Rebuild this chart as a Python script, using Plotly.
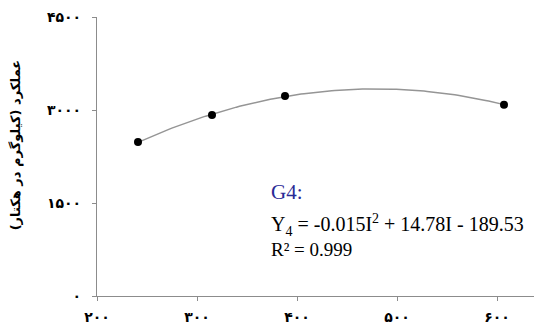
import numpy as np
import plotly.graph_objects as go

# Data
irrigation = [241, 315, 388, 607]
yield_kg = [2484, 2919, 3226, 3086]

x_tick_vals = [200, 300, 400, 500, 600]
x_tick_text = ["<b>۲۰۰</b>", "<b>۳۰۰</b>", "<b>۴۰۰</b>", "<b>۵۰۰</b>", "<b>۶۰۰</b>"]
y_tick_vals = [0, 1500, 3000, 4500]
y_tick_text = ["<b>۰</b>", "<b>۱۵۰۰</b>", "<b>۳۰۰۰</b>", "<b>۴۵۰۰</b>"]

y_title = "<b>عملکرد (کیلوگرم در هکتار)</b>"
group_label = "G4:"
equation = "Y<sub>4</sub> = -0.015I<sup>2</sup> + 14.78I - 189.53"
r2_label = "R² = 0.999"

# Quadratic trendline fitted to the data points
coef = np.polyfit(irrigation, yield_kg, 2)
xs = np.linspace(min(irrigation), max(irrigation), 120)
ys = np.polyval(coef, xs)

fig = go.Figure()
fig.add_trace(go.Scatter(x=xs, y=ys, mode="lines",
                         line=dict(color="#959595", width=1.5),
                         hoverinfo="skip", showlegend=False))
fig.add_trace(go.Scatter(x=irrigation, y=yield_kg, mode="markers",
                         marker=dict(color="black", size=8),
                         showlegend=False))

fig.add_annotation(x=0.386, y=0.374, xref="paper", yref="paper",
                   text=group_label, showarrow=False, xanchor="left", yanchor="middle",
                   font=dict(family="Liberation Serif", size=21, color="#2a2a96"))
fig.add_annotation(x=0.386, y=0.256, xref="paper", yref="paper",
                   text=equation, showarrow=False, xanchor="left", yanchor="middle",
                   font=dict(family="Liberation Serif", size=20, color="black"))
fig.add_annotation(x=0.386, y=0.168, xref="paper", yref="paper",
                   text=r2_label, showarrow=False, xanchor="left", yanchor="middle",
                   font=dict(family="Liberation Serif", size=19, color="black"))
fig.add_annotation(x=-0.182, y=0.54, xref="paper", yref="paper",
                   text=y_title, showarrow=False, textangle=-90,
                   xanchor="center", yanchor="middle",
                   font=dict(family="DejaVu Sans", size=13, color="black"))

fig.update_layout(
    width=534, height=318,
    margin=dict(l=89, r=0, t=9, b=30),
    paper_bgcolor="white", plot_bgcolor="white",
    xaxis=dict(range=[200, 645], tickvals=x_tick_vals, ticktext=x_tick_text,
               showgrid=False, zeroline=False, showline=True,
               linecolor="#8c8c8c", linewidth=1.2,
               ticks="outside", ticklen=4, tickcolor="#8c8c8c",
               ticklabelstandoff=4,
               tickfont=dict(family="DejaVu Sans", size=14, color="black")),
    yaxis=dict(range=[0, 4500], tickvals=y_tick_vals, ticktext=y_tick_text,
               showgrid=False, zeroline=False, showline=True,
               linecolor="#8c8c8c", linewidth=1.2,
               ticks="outside", ticklen=4, tickcolor="#8c8c8c",
               ticklabelstandoff=8,
               tickfont=dict(family="DejaVu Sans", size=14, color="black")),
)

fig.write_html("out.html")
